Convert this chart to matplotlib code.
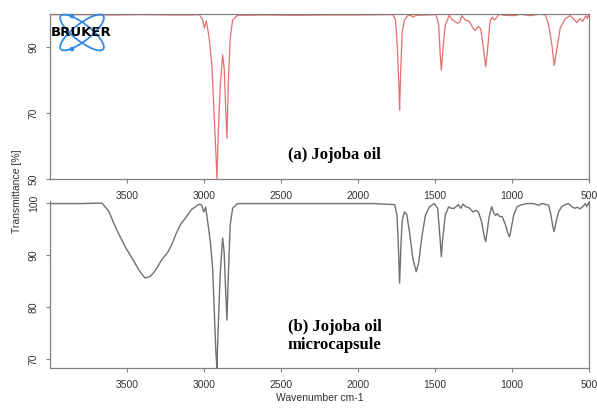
import matplotlib
matplotlib.use('Agg')
import matplotlib.pyplot as plt
from matplotlib.patches import Ellipse, Circle

# (a) Jojoba oil spectrum
wn_a = [4000, 3800, 3600, 3400, 3200, 3100, 3030, 3008, 2998, 2985, 2966, 2948, 2937, 2922, 2916,
        2908, 2895, 2879, 2869, 2860, 2851, 2843, 2830, 2814, 2782, 2600, 2400, 2200, 2000,
        1816, 1773, 1756, 1745, 1734, 1730, 1723, 1713, 1698, 1677, 1655, 1645, 1623, 1493, 1476,
        1466, 1459, 1450, 1433, 1407, 1386, 1353, 1338, 1326, 1304, 1278, 1253, 1240, 1218, 1203,
        1188, 1171, 1160, 1145, 1139, 1128, 1113, 1100, 1085, 1052, 987, 944, 880, 826, 784,
        762, 741, 726, 708, 687, 655, 623, 601, 580, 558, 541, 520, 511, 502, 500]
t_a = [99.8, 99.8, 99.7, 99.8, 99.7, 99.7, 99.8, 98.2, 95.7, 97.9, 92.6, 84.0, 72.4, 57.0, 50.0,
       63.0, 77.6, 87.6, 83.6, 72.4, 62.4, 77.6, 92.6, 98.2, 99.6, 99.7, 99.6, 99.7, 99.7,
       99.8, 99.8, 98.2, 90.6, 77.5, 70.9, 82.5, 94.6, 98.2, 99.5, 99.6, 99.0, 99.6, 99.8, 96.7,
       87.6, 83.0, 88.5, 96.7, 99.6, 98.2, 97.2, 97.6, 99.5, 98.2, 97.8, 95.7, 95.0, 96.2, 95.5,
       90.6, 84.0, 88.5, 96.7, 98.2, 99.0, 98.2, 98.9, 99.9, 99.6, 99.5, 99.9, 99.5, 99.9, 99.8,
       96.7, 90.6, 84.4, 89.5, 95.7, 98.5, 99.5, 98.6, 97.4, 98.6, 97.8, 99.5, 98.6, 99.7, 99.5]

# (b) Jojoba oil microcapsule spectrum
wn_b = [4000, 3800, 3663, 3620, 3566, 3510, 3459, 3420, 3384, 3350, 3330, 3300, 3277, 3250, 3234,
        3210, 3180, 3150, 3116, 3080, 3050, 3030, 3015, 3002, 2989, 2976, 2959, 2944, 2933, 2922,
        2916, 2908, 2895, 2879, 2869, 2860, 2851, 2843, 2830, 2814, 2782, 2500, 2200, 1900, 1762,
        1747, 1738, 1730, 1721, 1713, 1698, 1683, 1666, 1644, 1622, 1605, 1584, 1562, 1536, 1504,
        1483, 1467, 1459, 1450, 1433, 1411, 1396, 1375, 1348, 1333, 1318, 1301, 1279, 1253, 1236,
        1218, 1197, 1182, 1171, 1160, 1150, 1132, 1117, 1106, 1096, 1079, 1064, 1042, 1027, 1016,
        1005, 989, 967, 946, 903, 860, 826, 805, 762, 747, 735, 726, 713, 698, 677,
        655, 634, 612, 591, 576, 558, 541, 524, 515, 502, 500]
t_b = [99.9, 99.9, 100.0, 98.5, 94.8, 91.5, 89.0, 87.0, 85.6, 85.9, 86.5, 87.8, 89.0, 90.0, 90.6,
       92.0, 94.2, 96.0, 97.3, 98.8, 99.4, 99.8, 99.6, 98.3, 99.2, 96.4, 92.6, 87.5, 79.1, 70.8,
       68.3, 75.9, 86.2, 93.3, 90.6, 83.6, 77.5, 85.2, 95.8, 99.0, 99.9, 99.9, 99.9, 99.9, 99.7,
       97.7, 91.9, 84.6, 91.9, 96.7, 98.3, 97.8, 94.5, 89.4, 86.8, 88.7, 93.8, 97.7, 99.3, 99.9,
       99.0, 93.2, 89.7, 93.2, 97.7, 99.3, 99.0, 99.0, 99.7, 99.0, 99.8, 99.3, 99.1, 98.3, 98.6,
       98.3, 96.4, 93.8, 92.6, 94.8, 97.1, 99.3, 98.0, 97.6, 98.0, 97.4, 97.4, 95.8, 94.2, 93.5,
       95.1, 97.7, 99.3, 99.6, 99.9, 99.9, 99.6, 99.9, 99.6, 97.7, 95.5, 94.5, 96.5, 98.3, 99.3,
       99.7, 99.9, 99.3, 99.0, 99.2, 98.9, 99.3, 99.9, 99.3, 100.1, 99.8]

xticks = [3500, 3000, 2500, 2000, 1500, 1000, 500]
yticks_a = [50, 70, 90]
yticks_b = [70, 80, 90, 100]

plt.rcParams['font.family'] = ['Liberation Sans', 'DejaVu Sans']
W, H = 597, 409
fig = plt.figure(figsize=(W / 100, H / 100), dpi=100)

spine_col = '#808080'
text_col = '#333333'

ax1 = fig.add_axes([50 / W, 1 - 179 / H, 539 / W, 165 / H])
ax2 = fig.add_axes([50 / W, 1 - 368 / H, 539 / W, 166.5 / H])

ax1.plot(wn_a, t_a, color='#e36f6f', lw=0.9)
ax2.plot(wn_b, t_b, color='#707070', lw=1.0)

ax1.set_ylim(50, 100)
ax2.set_ylim(68.3, 100.3)
ax2.spines['top'].set_visible(False)

for ax, yt in ((ax1, yticks_a), (ax2, yticks_b)):
    ax.set_xlim(4000, 500)
    ax.set_xticks(xticks)
    ax.set_yticks(yt)
    for s in ax.spines.values():
        s.set_color(spine_col)
        s.set_linewidth(0.9)
    ax.tick_params(colors=spine_col, labelcolor=text_col, labelsize=7.5,
                   length=3, width=0.8, direction='out')
    ax.tick_params(axis='x', pad=6)
    ax.tick_params(axis='y', pad=5)
    for lab in ax.get_yticklabels():
        lab.set_rotation(90)
        lab.set_va('center')

ax2.set_xlabel('Wavenumber cm-1', fontsize=7.5, color=text_col, labelpad=2)
fig.text(17 / W, 1 - 191 / H, 'Transmittance [%]', rotation=90, ha='center', va='center',
         fontsize=7.5, color=text_col)

fig.text(288 / W, 1 - 155 / H, '(a) Jojoba oil', family='Liberation Serif',
         fontweight='bold', fontsize=12, va='center', ha='left')
fig.text(288 / W, 1 - 336 / H, '(b) Jojoba oil\nmicrocapsule', family='Liberation Serif',
         fontweight='bold', fontsize=12, va='center', ha='left', linespacing=1.15)

# Bruker logo in pixel coordinates
logo = fig.add_axes([0, 0, 1, 1], facecolor='none')
logo.set_xlim(0, W)
logo.set_ylim(H, 0)
logo.axis('off')
blue = '#2f8be6'
for ang in (38, -38):
    logo.add_patch(Ellipse((82, 32.5), 54, 17, angle=ang, fill=False, ec=blue, lw=1.3))
logo.add_patch(Circle((72, 16), 1.6, color=blue))
logo.add_patch(Circle((72, 49), 1.6, color=blue))
logo.text(81.5, 32.5, 'BRUKER', ha='center', va='center', fontsize=9.5,
          fontweight='heavy', family='DejaVu Sans', color='black')

plt.savefig('out.png', dpi=100)
